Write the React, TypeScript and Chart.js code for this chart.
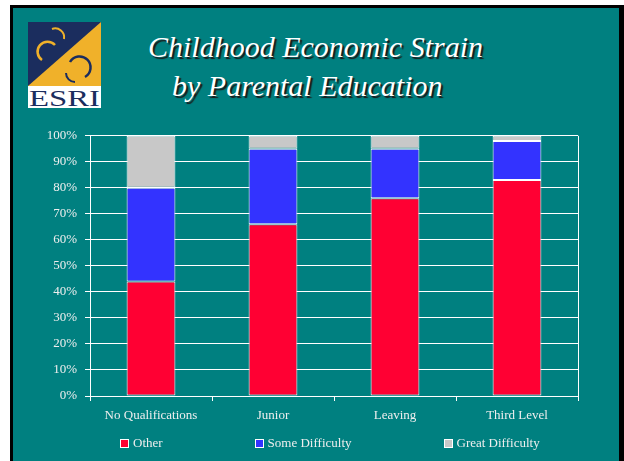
import React, { useEffect, useRef } from 'react';
import { Chart, registerables } from 'chart.js';

Chart.register(...registerables);

const categories = ['No Qualifications', 'Junior', 'Leaving', 'Third Level'];
const seriesNames = ['Other', 'Some Difficulty', 'Great Difficulty'];
const otherValues = [44, 66, 76, 83];
const someDifficultyValues = [36, 29, 19, 15];
const greatDifficultyValues = [20, 5, 5, 2];
const seriesColors = ['#FF0033', '#3333FF', '#C8C8C8'];
const yTickStep = 10;
const yMax = 100;

const TEAL = '#008080';
const SERIF = "'Liberation Serif', 'Times New Roman', serif";
const LABEL_COLOR = '#eeeeee';

const rightBorder = {
  id: 'rightBorder',
  afterDraw(chart: any) {
    const { ctx, chartArea } = chart;
    ctx.save();
    ctx.strokeStyle = '#ffffff';
    ctx.lineWidth = 1;
    const x = Math.round(chartArea.right) + 0.5;
    ctx.beginPath();
    ctx.moveTo(x, chartArea.top);
    ctx.lineTo(x, chartArea.bottom);
    ctx.stroke();
    ctx.restore();
  },
};

function Logo() {
  return (
    <svg width={73} height={86} viewBox="0 0 73 86" style={{ position: 'absolute', left: 28, top: 22 }}>
      <rect x={0} y={0} width={73} height={64} fill="#1b2d5e" />
      <polygon points="0,64 73,0 73,64" fill="#f0b12a" />
      <path d="M 27 23 A 10 10 0 1 0 14 38" stroke="#f0b12a" strokeWidth={2.5} fill="none" />
      <path d="M 24 7 A 9 9 0 0 1 36 17" stroke="#f0b12a" strokeWidth={2} fill="none" />
      <path d="M 42 40 A 11 11 0 1 1 57 55" stroke="#1b2d5e" strokeWidth={2.5} fill="none" />
      <path d="M 47 60 A 9 9 0 0 1 38 51" stroke="#1b2d5e" strokeWidth={2} fill="none" />
      <rect x={0} y={64} width={73} height={22} fill="#ffffff" />
      <text x={1} y={84} fontFamily={SERIF} fontSize={24} fill="#1b2d5e" textLength={71} lengthAdjust="spacingAndGlyphs">ESRI</text>
    </svg>
  );
}

export default function App() {
  const canvasRef = useRef<HTMLCanvasElement | null>(null);

  useEffect(() => {
    if (!canvasRef.current) return;
    const values = [otherValues, someDifficultyValues, greatDifficultyValues];
    const chart = new Chart(canvasRef.current, {
      type: 'bar',
      data: {
        labels: categories,
        datasets: seriesNames.map((name, i) => ({
          label: name,
          data: values[i],
          backgroundColor: seriesColors[i],
          borderColor: '#ffffff',
          borderWidth: 1,
          borderSkipped: false,
          categoryPercentage: 1,
          barPercentage: 0.4,
        })),
      },
      options: {
        animation: false,
        responsive: true,
        maintainAspectRatio: false,
        layout: { padding: { left: 17, right: 41, top: 15, bottom: 35 } },
        plugins: {
          legend: { display: false },
          tooltip: { enabled: false },
        },
        scales: {
          x: {
            stacked: true,
            grid: { drawOnChartArea: false, drawTicks: true, tickLength: 5, color: '#ffffff', offset: true },
            border: { display: true, color: '#ffffff', width: 1 },
            ticks: {
              color: LABEL_COLOR,
              font: { family: SERIF, size: 13 },
              padding: 7,
              maxRotation: 0,
            },
            afterFit: (s: any) => { s.height = 30; },
          },
          y: {
            stacked: true,
            min: 0,
            max: yMax,
            grid: { color: '#ffffff', lineWidth: 1, tickLength: 5 },
            border: { display: true, color: '#ffffff', width: 1 },
            ticks: {
              stepSize: yTickStep,
              color: LABEL_COLOR,
              font: { family: SERIF, size: 13 },
              padding: 8,
              callback: (v: any) => `${v}%`,
            },
            afterFit: (s: any) => { s.width = 60; },
          },
        },
      },
      plugins: [rightBorder],
    });
    return () => chart.destroy();
  }, []);

  const titleStyle: React.CSSProperties = {
    position: 'absolute',
    fontFamily: SERIF,
    fontStyle: 'italic',
    fontSize: 30,
    lineHeight: '30px',
    color: '#ffffff',
    whiteSpace: 'nowrap',
    textShadow: '2px 2px 1px #1a1a1a',
  };

  return (
    <div style={{ position: 'absolute', left: 0, top: 0, width: 624, height: 461, background: '#ffffff', overflow: 'hidden' }}>
      <div style={{ position: 'absolute', left: 10, top: 5, width: 614, height: 470, background: '#000000' }} />
      <div style={{ position: 'absolute', left: 13, top: 8, width: 606, height: 460, background: TEAL }} />
      <Logo />
      <div style={{ ...titleStyle, left: 148, top: 32 }}>Childhood Economic Strain</div>
      <div style={{ ...titleStyle, left: 172, top: 71 }}>by Parental Education</div>
      <div style={{ position: 'absolute', left: 13, top: 120, width: 606, height: 341 }}>
        <canvas ref={canvasRef} />
      </div>
      <div style={{ position: 'absolute', left: 120, top: 434, height: 18, display: 'flex', alignItems: 'center', gap: 92, fontFamily: SERIF, fontSize: 13, color: LABEL_COLOR, whiteSpace: 'nowrap' }}>
        {seriesNames.map((name, i) => (
          <div key={name} style={{ display: 'flex', alignItems: 'center', gap: 4 }}>
            <span style={{ display: 'inline-block', width: 7, height: 7, background: seriesColors[i], border: '1px solid #ffffff' }} />
            <span>{name}</span>
          </div>
        ))}
      </div>
    </div>
  );
}
